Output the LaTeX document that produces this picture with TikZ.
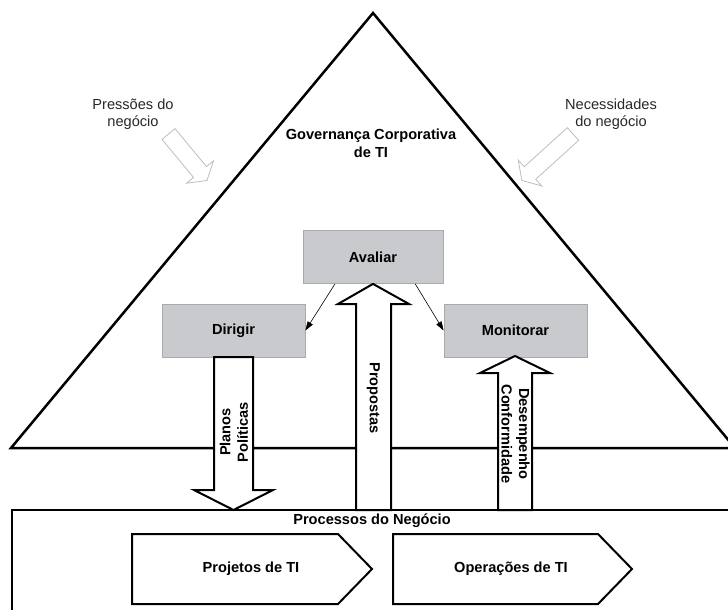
\documentclass[tikz,border=0pt]{standalone}
\usepackage{fontspec}
\setmainfont{Liberation Sans}
\usetikzlibrary{arrows.meta,calc}
\definecolor{boxfill}{RGB}{201,202,205}
\definecolor{boxline}{RGB}{170,170,172}
\definecolor{lightline}{RGB}{190,190,190}
\definecolor{softtext}{RGB}{40,40,40}
\newcommand{\diagfont}{\fontsize{14.6}{17.5}\selectfont}
\tikzset{
  graybox/.style={draw=boxline, line width=0.8pt, fill=boxfill, minimum width=140pt, minimum height=53pt, inner sep=0pt, font=\diagfont\bfseries},
  blockarrow/.style={draw=black, line width=2pt, fill=white, line join=miter},
  hollowarrow/.style={draw=lightline, line width=0.8pt, fill=white, line join=miter},
  chevron/.style={draw=black, line width=2pt, fill=white, line join=miter},
  thinarrow/.style={draw=black, line width=0.6pt, -{Triangle[length=9pt,width=6pt]}},
  boldlabel/.style={font=\diagfont\bfseries, align=center, inner sep=0pt},
  softlabel/.style={font=\diagfont, text=softtext, align=center, inner sep=0pt}
}
\begin{document}
\begin{tikzpicture}[x=1pt,y=-1pt]
\useasboundingbox (0,0) rectangle (728,610);
\clip (0,0) rectangle (728,610);

% triangle
\draw[line width=2.5pt, line join=miter] (11,448) -- (373,13) -- (735,448) -- cycle;

% process box
\draw[line width=2pt] (12,760) -- (12,510) -- (760,510);

% boxes
\node[graybox] (av) at (373,257) {Avaliar};
\node[graybox, minimum width=143pt] (di) at (233.5,330.5) {Dirigir};
\node[graybox, minimum width=143pt] (mo) at (515.5,330.5) {Monitorar};

% thin arrows
\draw[thinarrow] ($(av.south west)!0.23!(av.south east)$) -- (di.east);
\draw[thinarrow] ($(av.south west)!0.80!(av.south east)$) -- (mo.west);

% Propostas block arrow (up)
\coordinate (ptip) at (av.south);
\draw[blockarrow] (ptip) -- (409,304) -- (391,304) -- (391,510) -- (356,510) -- (356,304) -- (338,304) -- cycle;
\node[boldlabel, rotate=-90] (prop) at (373.5,398) {Propostas};

% Planos block arrow (down)
\coordinate (pltip) at (233.5,510);
\draw[blockarrow] (214,357) -- (253,357) -- (253,490) -- (273,490) -- (pltip) -- (194,490) -- (214,490) -- cycle;
\node[boldlabel, rotate=90] (plan) at (234,432) {Planos\\Políticas};

% Desempenho block arrow (up)
\coordinate (dtip) at (515,356);
\draw[blockarrow] (dtip) -- (550,373) -- (532,373) -- (532,510) -- (498,510) -- (498,373) -- (480,373) -- cycle;
\node[boldlabel, rotate=-90] (desc) at (515.5,434) {Desempenho\\Conformidade};

% Governance title
\node[boldlabel] (gov) at (371,143.5) {Governança Corporativa\\de TI};

% outside labels
\node[softlabel] (pn) at (133,114) {Pressões do\\negócio};
\node[softlabel] (nn) at (611,114) {Necessidades\\do negócio};

% hollow arrows
\draw[hollowarrow] (175,128.6) -- (206.5,166.6) -- (213.5,160.8) -- (207,180.5) -- (186.5,183.2) -- (193.5,177.4) -- (162,139.4) -- cycle;
\draw[hollowarrow] (578.7,140.3) -- (535.7,179.3) -- (541.8,186) -- (521.8,180.4) -- (518.2,160) -- (524.3,166.7) -- (567.3,127.7) -- cycle;

% process label
\node[boldlabel] (proc) at (372,521) {Processos do Negócio};

% chevrons
\draw[chevron] (132,534) -- (338,534) -- (372,569) -- (338,604) -- (132,604) -- cycle;
\node[boldlabel] (proj) at (251,569) {Projetos de TI};
\draw[chevron] (393,534) -- (598,534) -- (632,569) -- (598,604) -- (393,604) -- cycle;
\node[boldlabel] (oper) at (511,569) {Operações de TI};
\end{tikzpicture}
\end{document}
